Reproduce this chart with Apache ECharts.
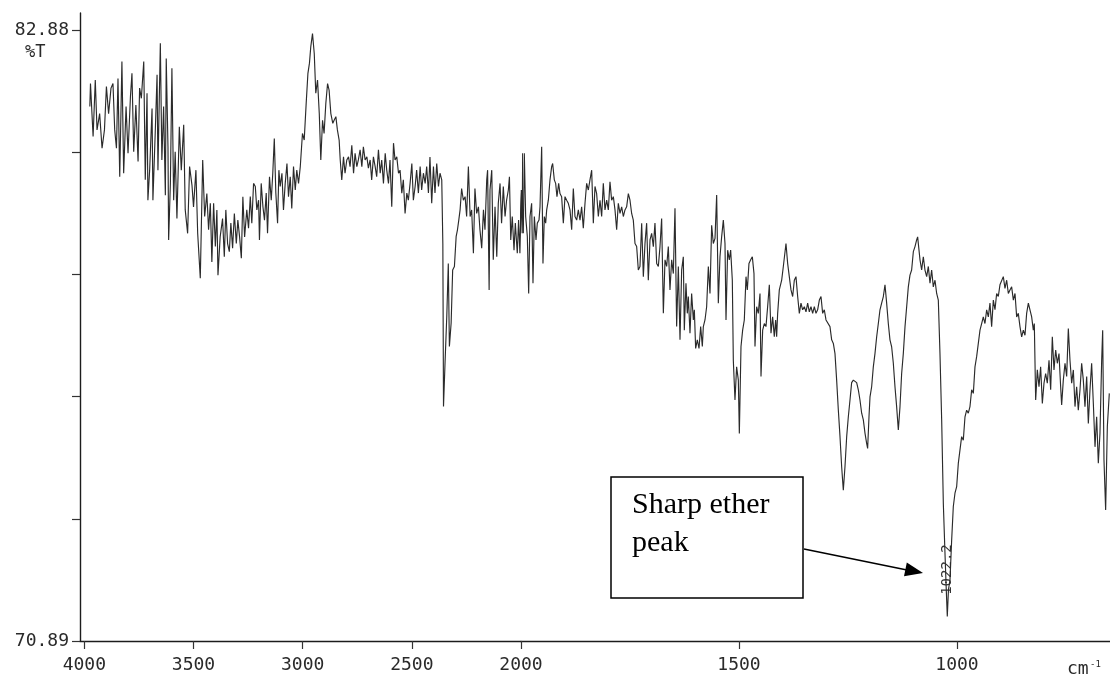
<!DOCTYPE html>
<html>
<head>
<meta charset="utf-8">
<title>IR spectrum</title>
<script src="https://cdn.jsdelivr.net/npm/echarts@6/dist/echarts.min.js"></script>
<style>
  html, body { margin: 0; padding: 0; background: #ffffff; }
  #chart { width: 1110px; height: 680px; }
</style>
</head>
<body>
<div id="chart"></div>
<script>
// Transmittance (%T) against wavenumber (cm-1), in descending wavenumber order.
const bandOH = [
  [3975,81.38],[3972,81.83],[3960,80.79],[3950,81.90],[3942,80.92],[3930,81.24],[3919,80.56],[3908,80.92],
  [3899,81.77],[3889,81.24],[3878,81.74],[3869,81.83],[3861,80.92],[3853,80.56],[3846,81.93],[3838,80.00],
  [3828,82.26],[3820,80.07],[3809,81.38],[3800,80.46],[3789,81.57],[3782,82.03],[3774,80.49],[3764,81.41],
  [3754,80.30],[3747,81.74],[3739,81.54],[3728,82.26],[3721,79.94],[3713,81.64],[3709,79.54],[3701,80.13],
  [3690,81.34],[3686,79.54],[3675,80.92],[3667,82.00],[3663,80.13],[3652,82.62],[3645,80.33],[3637,81.38],
  [3629,79.64],[3625,82.32],[3617,80.59],[3614,78.76],[3606,79.87],[3599,82.13],[3591,79.54],[3584,80.49],
  [3576,79.18],[3565,80.98],[3556,80.13],[3545,81.02],[3538,79.35],[3527,78.89],[3518,80.20],[3507,79.83],
  [3500,79.41],[3489,80.13],[3481,78.89],[3469,78.01],[3458,80.33],[3449,79.22],[3439,79.67],[3431,78.96],
  [3423,79.48],[3416,78.33],[3408,79.48],[3400,78.63],[3393,79.35],[3388,78.07],[3378,78.82],[3367,79.18],
  [3359,78.43],[3352,79.35],[3344,78.69],[3336,78.53],[3329,79.09],[3321,78.60],[3313,79.28],[3304,78.69],
  [3297,79.15],[3289,78.82],[3281,78.40],[3274,79.61],[3266,78.82],[3256,79.35],[3248,78.99],[3240,79.61],
  [3233,79.09],[3225,79.87],[3217,79.81],[3210,79.35],[3202,79.54]
];

const bandCH = [
  [3198,78.76],[3190,79.87],[3182,79.41],[3175,79.15],[3167,79.68],[3161,78.89],[3152,80.00],[3144,79.54],
  [3137,80.07],[3130,80.75],[3123,79.68],[3115,79.09],[3109,80.13],[3103,79.81],[3095,80.07],[3088,79.35],
  [3080,79.87],[3072,80.26],[3065,79.61],[3057,80.00],[3050,79.38],[3042,80.20],[3034,79.74],[3027,80.13],
  [3019,79.87],[3011,80.20],[3007,80.46],[3001,80.85],[2993,80.72],[2984,81.44],[2976,82.03],[2969,82.23],
  [2963,82.55],[2955,82.81],[2947,82.42],[2940,81.64],[2932,81.90],[2924,81.24],[2917,80.33],[2909,81.11],
  [2902,80.85],[2894,81.44],[2886,81.83],[2879,81.70],[2871,81.24],[2862,81.05],[2856,81.11],[2848,81.18],
  [2841,80.92],[2833,80.72],[2828,80.33],[2821,79.94],[2813,80.39],[2806,80.07],[2798,80.33],[2790,80.39],
  [2783,80.20],[2775,80.62],[2767,80.07],[2760,80.46],[2752,80.20],[2745,80.33],[2737,80.53],[2729,80.20],
  [2722,80.59],[2714,80.33],[2706,80.39],[2699,80.17],[2691,80.33],[2684,79.94],[2676,80.39],[2668,80.20],
  [2661,80.00],[2653,80.53],[2645,80.07],[2638,80.33],[2630,79.87],[2622,80.46],[2615,80.13],[2607,79.87],
  [2600,80.33],[2592,79.41],[2584,80.66],[2577,80.33],[2569,80.39],[2561,80.07],[2554,80.13],[2546,79.68],
  [2539,79.94],[2531,79.28],[2523,79.68],[2516,79.54],[2508,79.87],[2500,80.26],[2493,79.54],[2485,79.81],
  [2478,80.13],[2470,79.68],[2462,80.20],[2455,79.74],[2447,80.07],[2439,79.87],[2432,80.20],[2424,79.68],
  [2417,80.39],[2409,79.48],[2401,80.20],[2394,79.68],[2386,80.26],[2378,79.81],[2371,80.07],[2363,79.94]
];

const bandMid = [
  [2358,78.69],[2355,75.49],[2348,76.34],[2340,77.26],[2333,78.30],[2328,76.67],[2320,77.13],[2313,78.17],
  [2305,78.24],[2297,78.83],[2291,78.96],[2285,79.15],[2279,79.35],[2272,79.77],[2264,79.54],[2256,79.61],
  [2249,79.22],[2241,80.20],[2233,79.22],[2226,79.35],[2218,78.50],[2211,79.77],[2203,79.28],[2195,79.41],
  [2188,78.96],[2180,78.60],[2172,79.35],[2165,78.96],[2157,79.94],[2153,80.13],[2146,77.78],[2142,79.74],
  [2134,80.13],[2127,78.37],[2119,79.41],[2111,78.43],[2104,79.48],[2096,79.87],[2089,79.09],[2081,79.81],
  [2073,79.22],[2066,79.54],[2058,79.74],[2053,80.00],[2047,78.76],[2040,79.22],[2032,78.56],[2026,79.09],
  [2017,78.50],[2011,79.15],[2005,78.50],[1998.5,79.74],[1994.7,78.89],[1992.4,80.46],[1989.3,79.22],
  [1985.5,78.83],[1982.4,77.71],[1979.4,79.22],[1975.6,79.48],[1972.5,77.91],[1969.4,79.22],[1965.6,78.76],
  [1962.6,79.09],[1958.7,79.15],[1956.4,79.41],[1952.6,80.59],[1949.6,78.30],[1946.5,79.22],[1943.4,79.09],
  [1941.1,79.35],[1937.3,79.54],[1933.5,79.94],[1929.7,80.20],[1927.4,80.26],[1923.6,79.94],[1920.5,79.87],
  [1917.5,79.61],[1913.6,79.87],[1910.6,79.67],[1906.8,79.61],[1902.9,79.09],[1899.1,79.61],[1895.3,79.54],
  [1891.5,79.48],[1887.6,79.35],[1883.8,78.96],[1880.0,79.77],[1876.2,79.22],[1872.3,79.15],[1868.5,79.35],
  [1864.7,79.15],[1860.9,79.41],[1857.1,78.99],[1853.2,79.48],[1849.4,79.87],[1845.6,79.74],[1841.8,79.94],
  [1837.9,80.13],[1834.1,79.09],[1830.3,79.81],[1826.5,79.67],[1822.6,79.22],[1818.8,79.54],[1815.0,79.22],
  [1811.2,79.87],[1807.4,79.35],[1803.5,79.54],[1799.7,79.35],[1795.9,79.90],[1792.1,79.54],[1788.2,79.61],
  [1784.4,79.35],[1780.6,78.96],[1776.8,79.48],[1772.9,79.28],[1769.1,79.41],[1765.3,79.22],[1761.5,79.35],
  [1757.7,79.41],[1753.8,79.67],[1750.0,79.54],[1746.2,79.28],[1742.4,79.15],[1738.5,78.69],[1734.7,78.63],
  [1730.9,78.17],[1727.1,78.24],[1723.2,79.09],[1719.4,78.04],[1715.6,78.69],[1711.8,79.09],[1708.0,77.97],
  [1704.1,78.76],[1700.3,78.89],[1696.5,78.63],[1692.7,79.09],[1688.8,78.30],[1685.0,78.24],[1681.2,78.63],
  [1677.4,79.18],[1673.5,77.32],[1669.7,78.37],[1665.9,78.24],[1662.1,78.63],[1658.3,77.78],[1654.4,78.37],
  [1650.6,78.10],[1646.8,79.38],[1643.0,77.06],[1639.1,78.24],[1635.3,76.80],[1631.5,78.17],[1627.7,78.43],
  [1625.4,76.99],[1621.6,77.91],[1618.5,77.32],[1616.2,77.65],[1612.4,76.93],[1608.6,77.71],[1604.7,77.19],
  [1602.4,77.39],[1599.4,76.63],[1595.6,76.80],[1591.7,76.63],[1587.9,77.06],[1584.1,76.67],[1581.8,77.06],
  [1578.0,77.19],[1574.2,77.45],[1570.3,78.24],[1566.5,77.71],[1562.7,79.05],[1558.9,78.69],[1555.0,78.79],
  [1551.2,79.64],[1547.4,77.52],[1543.6,78.43],[1539.8,78.82],[1535.9,79.15],[1532.1,78.69],[1529.8,77.19],
  [1526.0,78.56],[1522.2,78.37],[1519.1,78.56],[1515.3,77.97],[1513.0,76.40],[1509.2,75.62],[1505.4,76.27],
  [1501.5,76.01],[1499.2,74.96],[1495.4,76.67],[1491.6,76.99],[1487.8,77.19],[1483.9,78.04],[1480.9,77.78],
  [1477.1,78.30],[1473.2,78.37],[1469.4,78.43],[1465.6,78.10],[1463.3,76.67],[1459.5,77.45],[1455.7,77.32],
  [1451.8,77.71],[1449.5,76.08],[1445.7,76.99],[1441.9,77.12],[1438.1,77.06],[1434.3,77.45],[1430.4,77.88],
  [1426.6,76.93],[1422.8,77.25],[1419.0,76.86],[1415.9,77.19],[1413.6,76.86],[1411.3,77.32],[1407.5,77.78],
  [1402.1,77.97],[1398.3,78.24],[1394.5,78.24],[1392.2,78.69],[1388.4,78.30],[1384.6,78.04],[1380.7,77.78],
  [1376.9,77.65],[1373.1,77.97],[1369.3,78.04],[1365.4,77.65],[1361.6,77.32],[1357.8,77.52],[1354.0,77.39],
  [1350.1,77.45],[1346.3,77.35],[1342.5,77.52],[1338.7,77.35],[1334.9,77.45],[1331.0,77.32],[1327.2,77.45],
  [1323.4,77.32],[1319.6,77.39],[1315.7,77.58],[1311.9,77.65],[1308.1,77.32],[1304.3,77.39],[1300.4,77.19],
  [1296.6,77.16]
];

const bandFingerprint = [
  [1291.3,77.06],[1287.4,76.80],[1283.6,76.73],[1279.8,76.53],[1276.0,76.01],[1272.1,75.42],[1268.3,74.90],
  [1264.5,74.31],[1260.7,73.85],[1256.9,74.31],[1253.0,74.90],[1249.2,75.29],[1245.4,75.62],[1241.6,75.96],
  [1237.7,76.01],[1233.9,75.98],[1230.1,75.96],[1226.3,75.82],[1222.5,75.62],[1218.6,75.36],[1214.8,75.23],
  [1211.0,74.97],[1207.2,74.77],[1204.9,74.67],[1201.8,75.29],[1199.5,75.68],[1195.7,75.88],[1191.9,76.27],
  [1188.1,76.53],[1184.2,76.86],[1180.4,77.12],[1176.6,77.39],[1172.8,77.52],[1168.9,77.65],[1165.1,77.88],
  [1161.3,77.52],[1157.5,77.12],[1153.7,76.80],[1149.8,76.66],[1146.0,76.34],[1142.2,75.88],[1138.4,75.49],
  [1134.5,75.03],[1130.7,75.49],[1126.9,76.14],[1123.1,76.53],[1119.2,77.06],[1115.4,77.45],[1111.6,77.84],
  [1107.8,78.07],[1104.0,78.17],[1100.1,78.53],[1096.3,78.63],[1092.5,78.76],[1090.2,78.82],[1087.1,78.56],
  [1084.8,78.37],[1081.0,78.17],[1077.2,78.43],[1073.4,78.17],[1069.5,78.04],[1065.7,78.24],[1061.9,77.91],
  [1058.1,78.17],[1054.3,77.84],[1050.4,77.97],[1046.6,77.71],[1042.8,77.58],[1039.0,76.53],[1035.1,75.23],
  [1031.3,73.59],[1027.5,72.61],[1025.0,72.00],[1022.2,71.37],[1019.5,71.90],[1016.0,72.09],[1012.2,72.87],
  [1008.4,73.53],[1004.6,73.79],[1000.7,73.92],[996.9,74.38],[993.1,74.64],[989.3,74.90],[985.5,74.83],
  [981.6,75.29],[977.8,75.42],[974.0,75.36],[970.2,75.49],[966.3,75.82],[962.5,75.75],[958.7,76.27],
  [954.9,76.47],[951.1,76.47],[947.2,76.99],[943.4,77.12],[939.6,77.25],[935.8,77.12],[931.9,77.39],
  [928.1,77.25],[924.3,77.52],[920.5,77.06],[916.6,77.58],[912.8,77.39],[909.0,77.71],[905.2,77.65],
  [901.4,77.88],[897.5,77.91],[893.7,78.04],[889.9,77.81],[886.0,77.97],[882.2,77.71],[878.4,77.78],
  [874.6,77.84],[870.7,77.58],[866.9,77.71],[863.1,77.25],[859.3,77.32],[855.5,77.06],[851.6,76.86],
  [847.8,76.99],[844.0,76.89],[840.2,77.32],[836.3,77.52],[832.5,77.55],[828.7,77.25],[824.9,76.99],
  [822.6,77.12],[819.5,75.62],[815.7,76.21],[811.9,75.88],[808.1,76.27],[804.2,75.55],[800.4,75.95],
  [796.6,76.14],[792.8,75.95],[788.9,76.40],[785.1,75.82],[781.3,76.86],[777.5,76.21],[773.6,76.60],
  [769.8,76.34],[766.0,76.53],[762.2,75.88],[759.9,75.52],[756.1,76.01],[752.2,76.34],[748.4,76.08],
  [744.6,77.02],[740.8,76.40],[736.9,75.95],[733.1,76.21],[729.3,75.49],[725.5,75.88],[721.7,75.42],
  [717.8,75.82],[714.0,76.34],[710.2,76.01],[706.4,75.49],[702.5,76.08],[698.7,75.16],[694.9,75.82],
  [691.1,76.34],[687.2,75.55],[683.4,74.70],[679.6,75.29],[675.8,74.38],[672.0,74.97],[668.1,76.40],
  [665.8,76.99],[662.8,74.44],[659.0,73.46],[655.1,75.10],[650.6,75.75]
];

// Axis ticks and labels
const yTicks = [70.89, 73.288, 75.686, 78.084, 80.482, 82.88];
const yLabels = [70.89, 82.88];
const xTicksHigh = [4000, 3500, 3000, 2500, 2000];
const xTicksLow = [1500, 1000];
const peakWave = 1022.2;

const spectrum = [].concat(bandOH, bandCH, bandMid, bandFingerprint);

const plotterFont = 'DejaVu Sans Mono';
const inkColor = '#2a2a2a';
const axisLineStyle = { color: '#1c1c1c', width: 1.4 };

function xAxisFor(gridIndex, min, max, ticks) {
  return {
    gridIndex: gridIndex,
    type: 'value',
    min: min,
    max: max,
    inverse: true,
    axisLine: { show: true, onZero: false, lineStyle: axisLineStyle },
    axisTick: { show: true, length: 8, customValues: ticks, lineStyle: { color: '#333', width: 1.2 } },
    axisLabel: {
      customValues: ticks, margin: 15,
      formatter: function (v) { return String(Math.round(v)); },
      fontFamily: plotterFont, fontSize: 18, color: inkColor
    },
    splitLine: { show: false }
  };
}

function traceOn(index) {
  return {
    type: 'line',
    xAxisIndex: index,
    yAxisIndex: index,
    data: spectrum,
    symbol: 'none',
    showSymbol: false,
    clip: true,
    silent: true,
    animation: false,
    lineStyle: { color: '#2b2b2b', width: 1.15 }
  };
}

const staticGraphics = [
  { id: 'unitY', type: 'text', x: 25, y: 53,
    style: { text: '%T', font: '17px "DejaVu Sans Mono"', fill: inkColor, verticalAlign: 'middle' } },
  { id: 'unitX', type: 'text', x: 1067, y: 669,
    style: { text: 'cm', font: '18px "DejaVu Sans Mono"', fill: inkColor, verticalAlign: 'middle' } },
  { id: 'unitXexp', type: 'text', x: 1090, y: 665,
    style: { text: '-1', font: '9px "DejaVu Sans Mono"', fill: inkColor, verticalAlign: 'middle' } },
  { id: 'noteBox', type: 'rect', shape: { x: 611, y: 477, width: 192, height: 121 },
    style: { fill: '#ffffff', stroke: '#000000', lineWidth: 1.5 } },
  { id: 'noteText', type: 'text', x: 632, y: 486,
    style: { text: 'Sharp ether\npeak', font: '30px "Liberation Serif"', lineHeight: 38, fill: '#000000', verticalAlign: 'top' } },
  { id: 'arrowShaft', type: 'line', shape: { x1: 804, y1: 549, x2: 907, y2: 570 },
    style: { stroke: '#000000', lineWidth: 1.5 } },
  { id: 'arrowHead', type: 'polygon', shape: { points: [[923, 573], [906.8, 562.5], [904.0, 576.3]] },
    style: { fill: '#000000' } }
];

const option = {
  backgroundColor: '#ffffff',
  animation: false,
  grid: [
    { left: 80, top: 13, width: 441, height: 628 },
    { left: 521, top: 13, width: 589, height: 628 }
  ],
  xAxis: [
    xAxisFor(0, 2000, 4020, xTicksHigh),
    xAxisFor(1, 649, 2000, xTicksLow)
  ],
  yAxis: [
    {
      gridIndex: 0, type: 'value', min: 70.89, max: 83.214,
      axisLine: { show: true, onZero: false, lineStyle: axisLineStyle },
      axisTick: { show: true, length: 8, customValues: yTicks, lineStyle: { color: '#333', width: 1.2 } },
      axisLabel: {
        customValues: yLabels, margin: 11,
        formatter: function (v) { return Number(v).toFixed(2); },
        fontFamily: plotterFont, fontSize: 18, color: inkColor
      },
      splitLine: { show: false }
    },
    { gridIndex: 1, type: 'value', min: 70.89, max: 83.214, show: false }
  ],
  series: [traceOn(0), traceOn(1)],
  graphic: { elements: staticGraphics }
};

const chart = echarts.init(document.getElementById('chart'), null, { renderer: 'canvas' });
chart.setOption(option);

// Peak annotation placed at the minimum of the ether band
const peakPoint = spectrum.find(function (p) { return p[0] === peakWave; });
const peakPx = chart.convertToPixel({ xAxisIndex: 1, yAxisIndex: 1 }, peakPoint);
chart.setOption({
  graphic: {
    elements: staticGraphics.concat([
      { id: 'peakLabel', type: 'text', x: peakPx[0], y: peakPx[1] - 47, rotation: Math.PI / 2,
        style: { text: peakWave.toFixed(1), font: '14px "DejaVu Sans Mono"', fill: '#333',
                 align: 'center', verticalAlign: 'middle' } }
    ])
  }
});
</script>
</body>
</html>
